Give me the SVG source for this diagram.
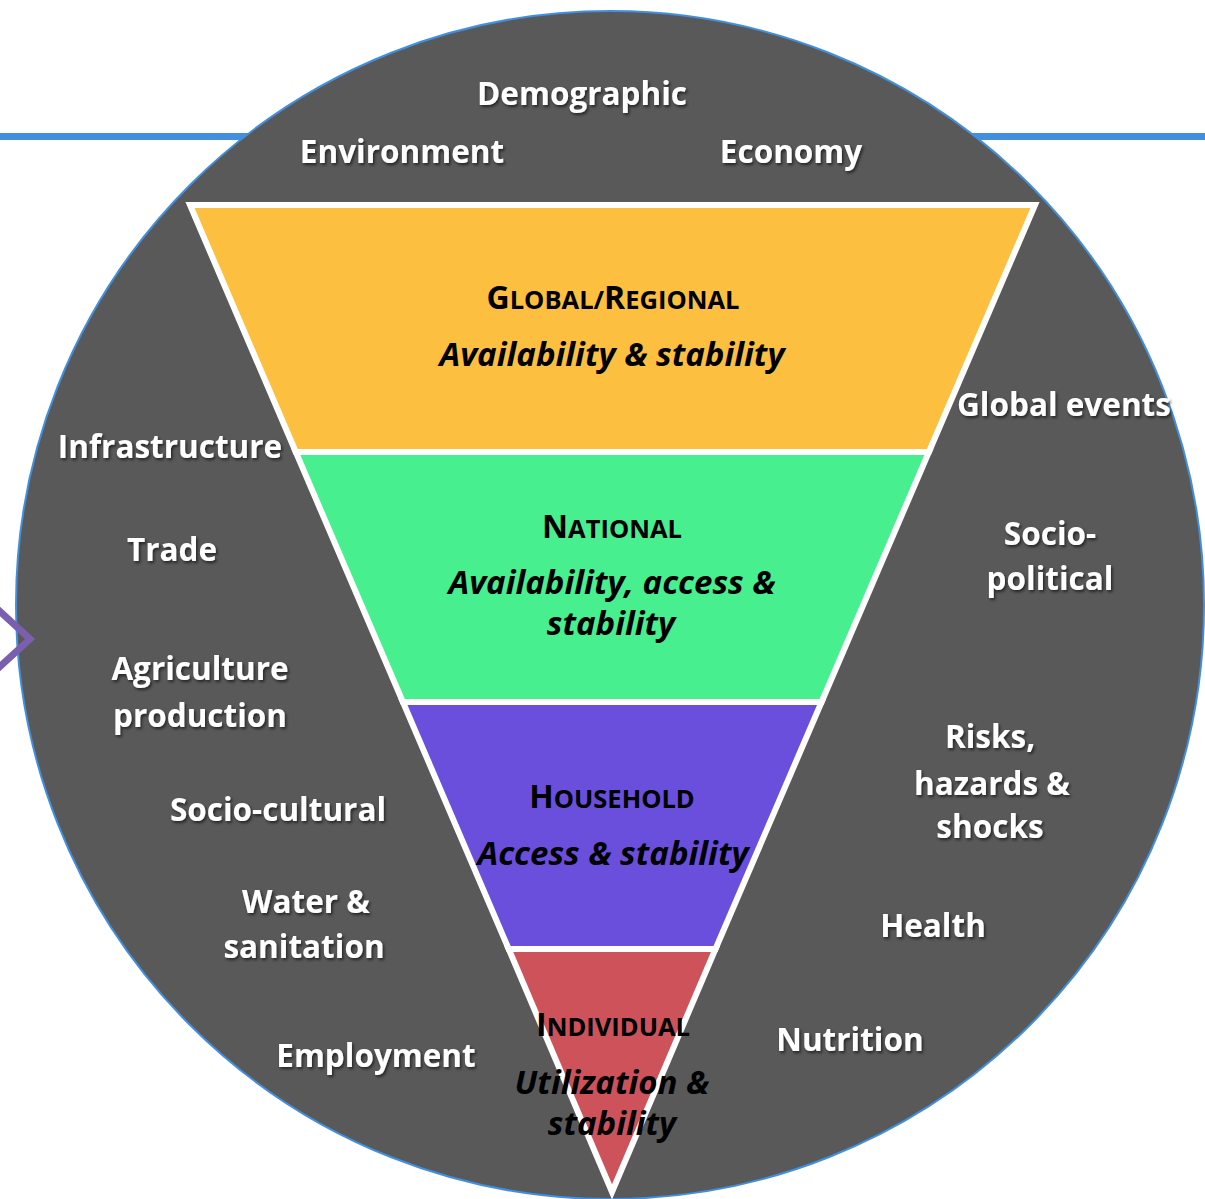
<svg xmlns="http://www.w3.org/2000/svg" width="1205" height="1199" viewBox="0 0 1205 1199">
<defs>
<filter id="sh" x="-10%" y="-30%" width="120%" height="160%">
<feDropShadow dx="1.5" dy="2" stdDeviation="1.8" flood-color="#000" flood-opacity="0.6"/>
</filter>
<style>
.lbl{font-family:"Open Sans","Noto Sans",sans-serif;font-weight:bold;font-size:31.5px;fill:#fff;text-anchor:middle;filter:url(#sh)}
.head{font-family:"Open Sans","Noto Sans",sans-serif;font-weight:bold;fill:#000;text-anchor:middle;font-size:25.5px}
.cap{font-size:32px}
.sub{font-family:"Open Sans","Noto Sans",sans-serif;font-weight:bold;font-style:italic;font-size:33px;fill:#000;text-anchor:middle}
.band{stroke:#fff;stroke-width:6;stroke-linejoin:miter}
</style>
</defs>
<rect width="1205" height="1199" fill="#fff"/>
<g id="topline">
<rect x="0" y="133" width="1205" height="7" fill="#418FDE"/>
</g>
<g id="circle">
<circle cx="610" cy="605" r="594" fill="#595959" stroke="#418FDE" stroke-width="2"/>
</g>
<g id="chevron">
<polyline points="-6,606 30,639 -6,672" fill="none" stroke="#7A5FAE" stroke-width="7"/>
</g>
<g id="global-regional">
<polygon class="band" fill="#FDBF3F" points="190,205 1035,205 928.9,452 295.8,452"/>
<text class="head" x="613" y="309"><tspan class="cap">G</tspan>LOBAL/<tspan class="cap">R</tspan>EGIONAL</text>
<text class="sub" x="612" y="366">Availability &amp; stability</text>
</g>
<g id="national">
<polygon class="band" fill="#48EF8E" points="295.8,452 928.9,452 821.6,702 402.9,702"/>
<text class="head" x="612" y="538"><tspan class="cap">N</tspan>ATIONAL</text>
<text class="sub" x="612" y="594">Availability, access &amp;</text>
<text class="sub" x="611" y="635">stability</text>
</g>
<g id="household">
<polygon class="band" fill="#6A4FDC" points="402.9,702 821.6,702 715.5,949 508.7,949"/>
<text class="head" x="612" y="808"><tspan class="cap">H</tspan>OUSEHOLD</text>
<text class="sub" x="613" y="865">Access &amp; stability</text>
</g>
<g id="individual">
<polygon class="band" fill="#CD525A" points="508.7,949 715.5,949 612,1192"/>
<text class="head" x="613" y="1036"><tspan class="cap">I</tspan>NDIVIDUAL</text>
<text class="sub" x="612" y="1094">Utilization &amp;</text>
<text class="sub" x="612" y="1135">stability</text>
</g>
<g id="labels">
<text class="lbl" x="582" y="105">Demographic</text>
<text class="lbl" x="402" y="163">Environment</text>
<text class="lbl" x="791" y="163">Economy</text>
<text class="lbl" x="170" y="458">Infrastructure</text>
<text class="lbl" x="172" y="561">Trade</text>
<text class="lbl" x="200" y="680">Agriculture</text>
<text class="lbl" x="200" y="727">production</text>
<text class="lbl" x="278" y="821">Socio-cultural</text>
<text class="lbl" x="306" y="913">Water &amp;</text>
<text class="lbl" x="304" y="958">sanitation</text>
<text class="lbl" x="376" y="1067">Employment</text>
<text class="lbl" x="1064" y="416">Global events</text>
<text class="lbl" x="1050" y="545">Socio-</text>
<text class="lbl" x="1050" y="590">political</text>
<text class="lbl" x="990" y="748">Risks,</text>
<text class="lbl" x="992" y="795">hazards &amp;</text>
<text class="lbl" x="990" y="838">shocks</text>
<text class="lbl" x="933" y="937">Health</text>
<text class="lbl" x="850" y="1051">Nutrition</text>
</g>
</svg>
